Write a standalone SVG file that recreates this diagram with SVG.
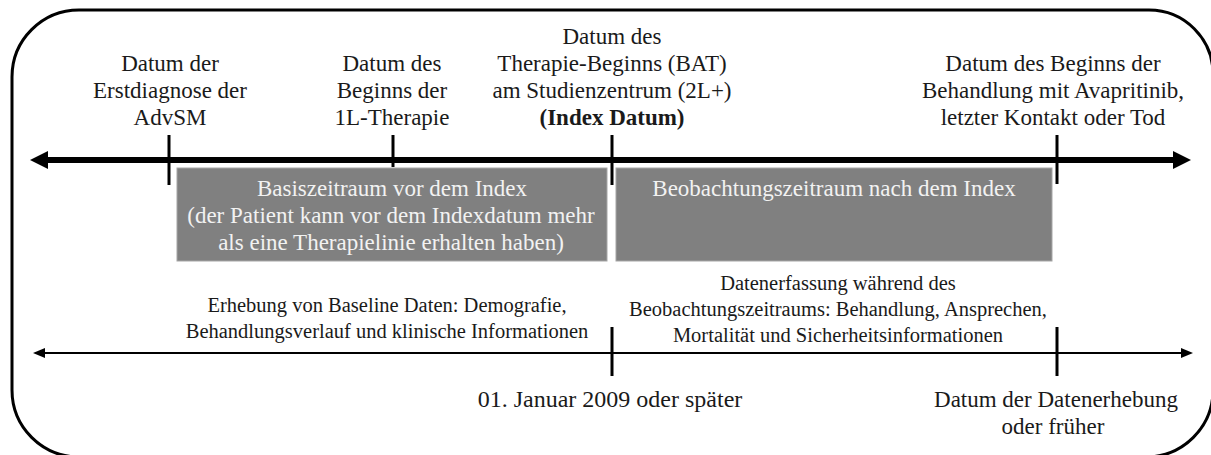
<svg xmlns="http://www.w3.org/2000/svg" width="1211" height="455" viewBox="0 0 1211 455">
<style>
text{font-family:"Liberation Serif","Times New Roman",serif;fill:#1a1a1a;text-anchor:middle}
.lbl{font-size:23px}
.bold{font-weight:bold}
.box{fill:#808080;stroke:#a6a6a6;stroke-width:1}
.boxt{font-size:23px;fill:#f2f2f2}
.desc{font-size:20.5px}
.tick{stroke:#000;stroke-width:3}
</style>
<path id="frame" d="M79,10 H1149 A64,64 0 0 1 1213,74 V390 A67,67 0 0 1 1146,457 H79 A67,67 0 0 1 12,390 V77 A67,67 0 0 1 79,10 Z" fill="none" stroke="#000" stroke-width="3"/>
<g id="connectors">
<line x1="46" y1="160" x2="1175" y2="160" stroke="#000" stroke-width="6"/>
<path d="M30,160 L48,151 L48,169 Z" fill="#000"/>
<path d="M1191,160 L1173,151 L1173,169 Z" fill="#000"/>
<line x1="44" y1="353" x2="1182" y2="353" stroke="#000" stroke-width="2.2"/>
<path d="M33,353 L45,348 L45,358 Z" fill="#000"/>
<path d="M1193,353 L1181,348 L1181,358 Z" fill="#000"/>
<line class="tick" x1="169" y1="135" x2="169" y2="185"/>
<line class="tick" x1="393" y1="135" x2="393" y2="167"/>
<line class="tick" x1="612" y1="135" x2="612" y2="185"/>
<line class="tick" x1="1057" y1="135" x2="1057" y2="184"/>
<line class="tick" x1="612" y1="327" x2="612" y2="376"/>
<line class="tick" x1="1057" y1="327" x2="1057" y2="376"/>
</g>
<g id="label-diagnose">
<text class="lbl" x="170" y="71">Datum der</text>
<text class="lbl" x="170" y="98">Erstdiagnose der</text>
<text class="lbl" x="170" y="125">AdvSM</text>
</g>
<g id="label-1l">
<text class="lbl" x="392" y="71">Datum des</text>
<text class="lbl" x="392" y="98">Beginns der</text>
<text class="lbl" x="392" y="125">1L-Therapie</text>
</g>
<g id="label-index">
<text class="lbl" x="612" y="44">Datum des</text>
<text class="lbl" x="612" y="71">Therapie-Beginns (BAT)</text>
<text class="lbl" x="612" y="98">am Studienzentrum (2L+)</text>
<text class="lbl bold" x="612" y="125">(Index Datum)</text>
</g>
<g id="label-end">
<text class="lbl" x="1053" y="71">Datum des Beginns der</text>
<text class="lbl" x="1053" y="98">Behandlung mit Avapritinib,</text>
<text class="lbl" x="1053" y="125">letzter Kontakt oder Tod</text>
</g>
<g id="box-baseline">
<rect class="box" x="177" y="168" width="430" height="93"/>
<text class="boxt" x="392" y="196">Basiszeitraum vor dem Index</text>
<text class="boxt" x="391" y="223">(der Patient kann vor dem Indexdatum mehr</text>
<text class="boxt" x="391" y="250">als eine Therapielinie erhalten haben)</text>
</g>
<g id="box-observation">
<rect class="box" x="616" y="168" width="436" height="93"/>
<text class="boxt" x="834" y="196">Beobachtungszeitraum nach dem Index</text>
</g>
<g id="desc-baseline">
<text class="desc" x="387" y="312">Erhebung von Baseline Daten: Demografie,</text>
<text class="desc" x="387" y="338">Behandlungsverlauf und klinische Informationen</text>
</g>
<g id="desc-observation">
<text class="desc" x="838" y="290">Datenerfassung während des</text>
<text class="desc" x="838" y="316">Beobachtungszeitraums: Behandlung, Ansprechen,</text>
<text class="desc" x="838" y="342">Mortalität und Sicherheitsinformationen</text>
</g>
<g id="label-start">
<text class="lbl" x="610" y="407" style="font-size:24px">01. Januar 2009 oder später</text>
</g>
<g id="label-cutoff">
<text class="lbl" x="1056" y="407">Datum der Datenerhebung</text>
<text class="lbl" x="1053" y="434">oder früher</text>
</g>
</svg>
